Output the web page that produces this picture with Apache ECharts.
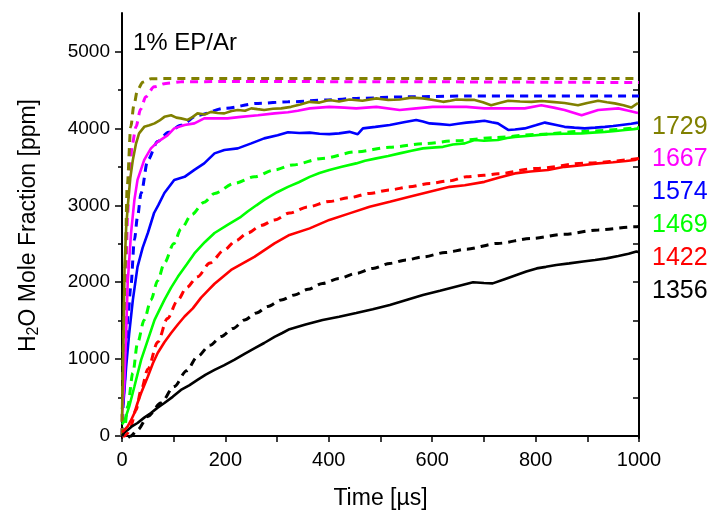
<!DOCTYPE html>
<html>
<head>
<meta charset="utf-8">
<script src="https://cdn.jsdelivr.net/npm/echarts@6/dist/echarts.min.js"></script>
<style>
html,body{margin:0;padding:0;background:#fff;}
#chart{width:716px;height:523px;}
</style>
</head>
<body>
<div id="chart"></div>
<script>
// ---- data (time in µs, H2O mole fraction in ppm) ----
const labels = ['1729', '1667', '1574', '1469', '1422', '1356'];
const colors = ['#808000', '#ff00ff', '#0000ff', '#00ff00', '#ff0000', '#000000'];

// measured (solid)
const exp1729T = [0,2,5,8,11,16,21,27,33,43,53,63,72,82,95,105,114,127,137,146,160,172,185,198,212,224,238,250,262,275,292,308,327,345,363,382,401,420,440,465,492,515,537,560,582,602,621,635,647,666,682,698,714,730,747,770,792,812,831,856,882,900,921,938,953,970,985,998];
const exp1729V = [200,900,2200,2700,2980,3350,3590,3800,3935,4020,4040,4065,4100,4150,4170,4140,4130,4110,4150,4195,4180,4215,4200,4195,4225,4240,4230,4260,4250,4240,4255,4260,4280,4310,4345,4335,4370,4350,4375,4360,4390,4370,4375,4400,4390,4370,4345,4360,4375,4370,4370,4340,4300,4330,4360,4350,4345,4355,4345,4330,4300,4330,4360,4340,4325,4300,4270,4330];

const exp1667T = [0,2,4.5,8,11,17.5,24,30,43,56,69,88,101,121,140,159,179,204,230,263,295,321,340,363,401,430,453,492,537,569,601,634,666,701,740,779,811,835,856,889,921,960,980,998];
const exp1667V = [250,450,690,1340,1990,2640,3070,3330,3590,3740,3825,3910,4000,4045,4065,4130,4130,4130,4150,4170,4195,4210,4230,4260,4280,4270,4260,4280,4240,4260,4280,4280,4280,4260,4260,4260,4300,4270,4240,4170,4240,4260,4230,4200];

const exp1574T = [0,3,8,14,21,30,40,50,62,70,82,101,121,140,159,179,198,224,250,275,301,321,343,363,382,401,420,440,456,466,490,518,545,569,582,595,615,634,650,666,682,701,715,727,747,760,779,800,818,840,856,875,895,915,934,950,966,985,998];
const exp1574V = [350,450,900,1340,1770,2200,2450,2640,2900,3000,3160,3330,3370,3460,3545,3675,3720,3740,3805,3870,3910,3950,3940,3945,3930,3925,3935,3955,3925,4000,4020,4045,4080,4110,4090,4065,4055,4045,4060,4075,4085,4100,4080,4065,3980,3985,4000,4040,4075,4045,4020,4010,4000,4010,4020,4030,4045,4060,4075];

const exp1469T = [0,5,14,24,37,50,63,82,95,108,125,140,160,179,205,230,243,260,275,300,321,342,363,382,401,425,453,470,492,515,537,560,582,600,621,640,663,682,700,727,745,760,790,824,855,889,910,934,955,973,990,1000];
const exp1469V = [150,200,385,645,990,1250,1510,1770,1930,2070,2230,2375,2520,2640,2750,2850,2920,3000,3070,3170,3240,3300,3370,3420,3460,3500,3545,3580,3610,3640,3675,3710,3740,3750,3760,3790,3805,3850,3840,3850,3875,3890,3905,3925,3930,3935,3945,3955,3965,3980,3990,4000];

const exp1422T = [0,5,11,17,24,30,37,50,60,69,82,95,108,121,137,153,166,179,211,256,295,324,363,401,440,479,518,556,595,634,663,701,730,760,790,824,856,890,921,950,975,992,1000];
const exp1422V = [50,80,125,200,300,430,560,775,950,1080,1220,1340,1450,1555,1660,1800,1890,1980,2160,2330,2505,2615,2700,2810,2895,2980,3045,3110,3175,3240,3260,3305,3360,3415,3440,3460,3500,3520,3545,3560,3575,3590,3610];

const exp1356T = [0,5,11,20,30,43,56,69,82,98,114,130,146,162,179,197,217,237,256,275,295,310,324,355,388,420,453,485,518,550,582,615,647,679,700,717,740,763,782,802,820,840,865,892,915,937,960,980,995,1000];
const exp1356V = [0,50,80,130,170,240,300,370,430,510,600,660,730,800,860,920,990,1070,1140,1210,1290,1340,1390,1450,1510,1550,1600,1650,1705,1770,1835,1890,1945,2000,1990,1985,2040,2095,2140,2180,2200,2225,2245,2270,2290,2310,2340,2370,2400,2390];

// model (dashed)
const mod1729T = [0,3,6,10,17,23,30,40,56,80,150,500,1000];
const mod1729V = [0,1200,2200,3240,4020,4300,4500,4600,4645,4648,4648,4648,4648];

const mod1667T = [0,4,7,11,14,20,27,36,46,62,85,114,200,600,1000];
const mod1667V = [0,1100,2000,2900,3350,3800,4020,4250,4410,4540,4585,4605,4610,4605,4595];

const mod1574T = [0,4.4,8,12,17,24,30,37,50,69,90,114,146,198,263,321,400,453,550,666,800,1000];
const mod1574V = [0,640,1250,1600,1940,2550,2850,3160,3590,3830,3950,4040,4170,4260,4325,4345,4370,4390,4410,4420,4420,4420];

const mod1469T = [0,5,11,21,30,43,56,69,82,100,114,135,159,179,217,256,295,330,388,453,518,582,647,720,800,900,1000];
const mod1469V = [0,100,385,820,1210,1510,1770,2020,2250,2500,2690,2880,3040,3155,3285,3370,3460,3525,3610,3695,3755,3800,3840,3880,3920,3965,4010];

const mod1422T = [0,5,10,17,27,37,50,69,88,108,125,146,170,198,220,243,270,295,324,360,401,440,479,518,556,595,634,666,700,727,800,900,1000];
const mod1422V = [0,0,30,125,340,600,870,1220,1530,1770,1930,2070,2250,2420,2540,2640,2740,2810,2900,2980,3050,3100,3155,3200,3240,3285,3320,3370,3390,3410,3480,3550,3610];

const mod1356T = [12,17,30,50,75,101,125,146,170,192,215,237,260,282,308,334,360,388,420,453,485,518,550,582,625,666,727,792,856,921,992,1000];
const mod1356V = [-20,0,80,255,430,645,850,1035,1180,1295,1400,1510,1600,1685,1770,1835,1910,1985,2050,2115,2180,2245,2290,2330,2385,2430,2505,2570,2625,2680,2720,2725];

const yMajor = [0,1000,2000,3000,4000,5000];
const yMinor = [500,1500,2500,3500,4500];

// ---- build ----
function pairs(t, v) { return t.map((x, i) => [x, v[i]]); }
const expSets = [[exp1729T,exp1729V],[exp1667T,exp1667V],[exp1574T,exp1574V],[exp1469T,exp1469V],[exp1422T,exp1422V],[exp1356T,exp1356V]];
const modSets = [[mod1729T,mod1729V],[mod1667T,mod1667V],[mod1574T,mod1574V],[mod1469T,mod1469V],[mod1422T,mod1422V],[mod1356T,mod1356V]];

const FONT = '"Liberation Sans", Arial, sans-serif';
const series = [];
for (let i = 5; i >= 0; i--) {
  series.push({
    type: 'line', name: labels[i] + ' model', data: pairs(modSets[i][0], modSets[i][1]),
    showSymbol: false, symbol: 'none', smooth: 0.3, smoothMonotone: 'x',
    lineStyle: { color: colors[i], width: 3, type: [8, 6] }, z: 2
  });
  series.push({
    type: 'line', name: labels[i], data: pairs(expSets[i][0], expSets[i][1]),
    showSymbol: false, symbol: 'none',
    lineStyle: { color: colors[i], width: 2.6 }, z: 3
  });
}

const labelY = [128, 160, 193, 226, 259, 292];
const graphics = labels.map((l, i) => ({
  type: 'text', left: 652, top: labelY[i] - 13,
  style: { text: l, fill: colors[i], font: '25px ' + FONT }
}));
graphics.push({ type: 'text', left: 133, top: 31, style: { text: '1% EP/Ar', fill: '#000', font: '24px ' + FONT } });

const axisLineStyle = { show: true, lineStyle: { color: '#000', width: 2 } };
const ymin = -25, ymax = 5500;

const option = {
  animation: false,
  backgroundColor: '#fff',
  grid: { left: 122, right: 77, top: 13, bottom: 85, containLabel: false },
  xAxis: [
    {
      type: 'value', position: 'bottom', min: 0, max: 1000, interval: 100,
      axisLine: axisLineStyle,
      axisTick: { show: true, inside: false, length: 6, lineStyle: { color: '#000', width: 1.5 } },
      axisLabel: { color: '#000', fontSize: 20, fontFamily: FONT, margin: 12,
        formatter: v => (v % 200 === 0 ? String(v) : '') },
      splitLine: { show: false },
      name: 'Time [\u00b5s]', nameLocation: 'middle', nameGap: 49,
      nameTextStyle: { color: '#000', fontSize: 23, fontFamily: FONT }
    },
    {
      type: 'value', position: 'top', min: 0, max: 1000, interval: 100,
      axisLine: axisLineStyle,
      axisTick: { show: true, inside: true, length: 6, lineStyle: { color: '#000', width: 1.5 } },
      axisLabel: { show: false }, splitLine: { show: false }
    }
  ],
  yAxis: [
    {
      type: 'value', position: 'left', min: ymin, max: ymax,
      axisLine: axisLineStyle,
      axisTick: { show: true, inside: false, length: 7, customValues: yMajor, lineStyle: { color: '#000', width: 1.5 } },
      axisLabel: { show: true, customValues: yMajor, color: '#000', fontSize: 19, fontFamily: FONT, margin: 12,
        formatter: v => String(Math.round(v)) },
      splitLine: { show: false },
      name: '{a|H}{b|2}{a|O Mole Fraction [ppm]}', nameLocation: 'middle', nameGap: 80, nameRotate: 90,
      nameTextStyle: {
        color: '#000', fontFamily: FONT,
        rich: {
          a: { fontSize: 23, fontFamily: FONT, color: '#000' },
          b: { fontSize: 16, fontFamily: FONT, color: '#000', padding: [10, 0, 0, 0] }
        }
      }
    },
    {
      type: 'value', position: 'left', min: ymin, max: ymax,
      axisLine: { show: false },
      axisTick: { show: true, inside: false, length: 4, customValues: yMinor, lineStyle: { color: '#000', width: 1.5 } },
      axisLabel: { show: false }, splitLine: { show: false }
    },
    {
      type: 'value', position: 'right', min: ymin, max: ymax,
      axisLine: axisLineStyle,
      axisTick: { show: true, inside: true, length: 6, customValues: yMajor.concat(yMinor), lineStyle: { color: '#000', width: 1.5 } },
      axisLabel: { show: false }, splitLine: { show: false }
    }
  ],
  graphic: graphics,
  series: series
};

const chart = echarts.init(document.getElementById('chart'), null, { renderer: 'canvas' });
chart.setOption(option);
</script>
</body>
</html>
